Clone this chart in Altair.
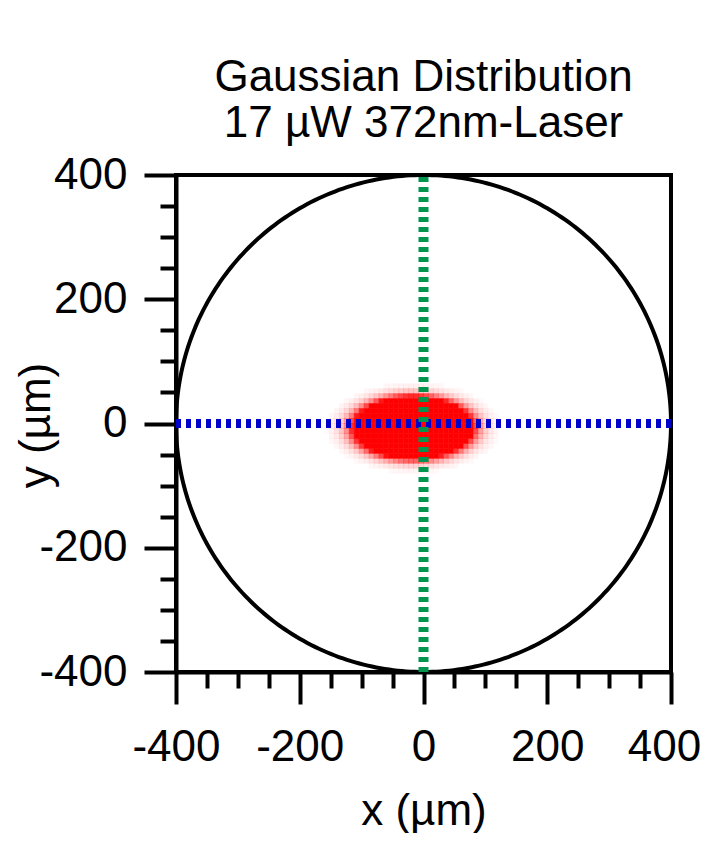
import altair as alt
import numpy as np
import pandas as pd

# ---- text ----
title_lines = ["Gaussian Distribution", "17 µW 372nm-Laser"]
x_title = "x (µm)"
y_title = "y (µm)"

# ---- axes ----
axis_domain = [-400, 400]
tick_values = [-400, -350, -300, -250, -200, -150, -100, -50, 0,
               50, 100, 150, 200, 250, 300, 350, 400]
major_every = 200

# ---- aperture circle (radius in µm) ----
circle_radius = [400]

# ---- beam spot (2D Gaussian) ----
beam_center = [-17, -7]      # x0, y0 in µm
beam_sigma = [36, 18.5]      # sigma_x, sigma_y in µm
beam_saturation = [0.027]    # colour saturates above this fraction of peak
beam_pixel = [8]             # µm per image pixel

# ---- cross lines ----
vline_x = [0]
hline_y = [0]

FONT = "Liberation Sans"

# beam image cells
step = beam_pixel[0]
gx = np.arange(-200, 170, step)
gy = np.arange(-104, 96, step)
rows = []
for xv in gx:
    for yv in gy:
        cx, cy = xv + step / 2, yv + step / 2
        g = np.exp(-((cx - beam_center[0]) ** 2 / (2 * beam_sigma[0] ** 2)
                     + (cy - beam_center[1]) ** 2 / (2 * beam_sigma[1] ** 2)))
        a = min(1.0, g / beam_saturation[0])
        if a > 0.02:
            rows.append({"x": xv, "x2": xv + step, "y": yv, "y2": yv + step, "a": a})
beam_df = pd.DataFrame(rows)

ang = np.linspace(0, 2 * np.pi, 361)
circle_df = pd.DataFrame({"x": circle_radius[0] * np.cos(ang),
                          "y": circle_radius[0] * np.sin(ang),
                          "o": np.arange(len(ang))})

vline_df = pd.DataFrame({"x": vline_x, "y": [axis_domain[0]], "y2": [axis_domain[1]]})
hline_df = pd.DataFrame({"y": hline_y, "x": [axis_domain[0]], "x2": [axis_domain[1]]})

tick_size = {"condition": {"test": f"datum.value % {major_every} === 0", "value": 32}, "value": 16}
label_expr = f"datum.value % {major_every} === 0 ? '' + datum.value : ''"

common_axis = dict(
    values=tick_values, labelExpr=label_expr, tickSize=tick_size,
    tickWidth=4, tickColor="black", domainColor="black", domainWidth=4,
    grid=False, labelFont=FONT, labelFontSize=44, labelColor="black",
    labelFlush=False, labelOverlap=False, labelBound=False,
    titleFont=FONT, titleFontSize=44, titleFontWeight="normal", titleColor="black",
)

x_axis = alt.Axis(**common_axis, labelPadding=21, titleX=247.5, titleY=152,
                  titleAlign="center", titleBaseline="alphabetic",
                  labelOffset={"condition": {"test": f"datum.value === {axis_domain[1]}", "value": -7},
                               "value": 0})
y_axis = alt.Axis(**common_axis, labelPadding=17, titleX=-127, titleY=250,
                  titleAngle=270, titleAlign="center", titleBaseline="alphabetic")

scale = alt.Scale(domain=axis_domain, nice=False, zero=False)


def X(field="x"):
    return alt.X(f"{field}:Q", scale=scale, axis=x_axis, title=x_title)


def Y(field="y"):
    return alt.Y(f"{field}:Q", scale=scale, axis=y_axis, title=y_title)


beam = alt.Chart(beam_df).mark_rect(color="#ff0000", stroke="#ff0000", strokeWidth=0.6).encode(
    x=X(), x2="x2:Q", y=Y(), y2="y2:Q",
    opacity=alt.Opacity("a:Q", scale=None, legend=None),
)

circle = alt.Chart(circle_df).mark_line(color="black", strokeWidth=4).encode(
    x=X(), y=Y(), order="o:Q"
)

hline = alt.Chart(hline_df).mark_rule(color="#0000cc", strokeWidth=9,
                                      strokeDash=[5, 5], strokeCap="butt").encode(
    x=X(), x2="x2:Q", y=Y()
)

vline = alt.Chart(vline_df).mark_rule(color="#00964f", strokeWidth=10,
                                      strokeDash=[5, 5], strokeCap="butt").encode(
    x=X(), y=Y(), y2="y2:Q"
)

chart = alt.layer(beam, circle, hline, vline).properties(
    width=495, height=497,
    title=alt.TitleParams(text=title_lines, font=FONT, fontSize=44, fontWeight="normal",
                          color="black", anchor="middle", frame="group", offset=7,
                          lineHeight=46),
    autosize=alt.AutoSizeParams(type="none"),
    padding={"left": 168, "top": 167, "right": 32, "bottom": 161},
).configure(background="white").configure_view(stroke="black", strokeWidth=4)

chart.save("out.html", embed_options={"renderer": "svg", "actions": False})
